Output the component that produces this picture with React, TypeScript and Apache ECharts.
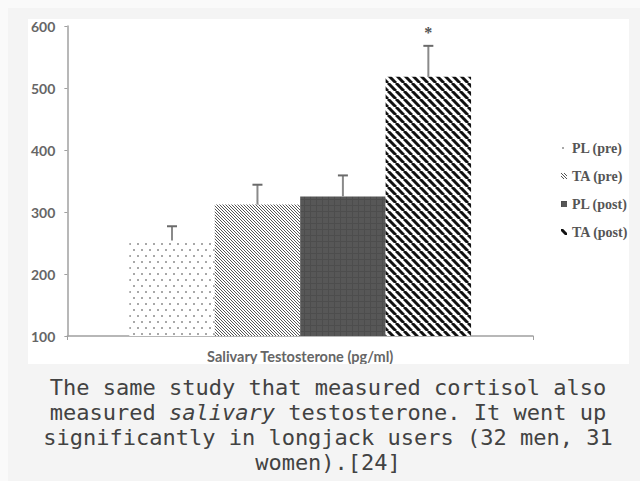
import React, { useEffect, useRef } from "react";
import * as echarts from "echarts";

const CATEGORIES = ["Salivary Testosterone (pg/ml)"];
const SERIES_NAMES = ["PL (pre)", "TA (pre)", "PL (post)", "TA (post)"];
const MEANS = [254, 312, 325, 518];
const UPPER = [277, 344, 359, 568];
const SIG = ["", "", "", "*"];
const Y_MIN = 100;
const Y_MAX = 600;
const Y_INTERVAL = 100;

const CATEGORY_GAP = 0.266;

function makeTile(w: number, h: number, draw: (ctx: CanvasRenderingContext2D) => void) {
  const c = document.createElement("canvas");
  c.width = w;
  c.height = h;
  const ctx = c.getContext("2d") as CanvasRenderingContext2D;
  draw(ctx);
  return c;
}

function makePatterns() {
  const dots = makeTile(8, 12, (ctx) => {
    ctx.fillStyle = "#ffffff";
    ctx.fillRect(0, 0, 8, 12);
    ctx.fillStyle = "#a8a8a8";
    ctx.fillRect(1, 2, 2, 2);
    ctx.fillRect(5, 8, 2, 2);
  });
  const fine = makeTile(3, 3, (ctx) => {
    ctx.fillStyle = "#ffffff";
    ctx.fillRect(0, 0, 3, 3);
    ctx.strokeStyle = "#555555";
    ctx.lineWidth = 1;
    for (const a of [-3, 0, 3]) {
      ctx.beginPath();
      ctx.moveTo(a, 0);
      ctx.lineTo(a + 3, 3);
      ctx.stroke();
    }
  });
  const dark = makeTile(6, 6, (ctx) => {
    ctx.fillStyle = "#575757";
    ctx.fillRect(0, 0, 6, 6);
    ctx.fillStyle = "#4d4d4d";
    ctx.fillRect(0, 0, 1, 6);
    ctx.fillRect(0, 0, 6, 1);
  });
  const thick = makeTile(8, 8, (ctx) => {
    ctx.fillStyle = "#ffffff";
    ctx.fillRect(0, 0, 8, 8);
    ctx.strokeStyle = "#111111";
    ctx.lineWidth = 3;
    for (const a of [-8, 0, 8]) {
      ctx.beginPath();
      ctx.moveTo(a, 0);
      ctx.lineTo(a + 8, 8);
      ctx.stroke();
    }
  });
  return [dots, fine, dark, thick].map((c) => ({
    image: c,
    repeat: "repeat",
    imageWidth: c.width,
    imageHeight: c.height,
  }));
}

function Chart() {
  const ref = useRef<HTMLDivElement>(null);
  useEffect(() => {
    if (!ref.current) return;
    const chart = echarts.init(ref.current, null, { renderer: "svg" });
    const patterns = makePatterns();
    const n = SERIES_NAMES.length;

    const barSeries = SERIES_NAMES.map((name, i) => ({
      type: "bar",
      name,
      data: [MEANS[i]],
      barGap: "0%",
      barCategoryGap: CATEGORY_GAP * 100 + "%",
      itemStyle: { color: patterns[i] as any },
      z: 2,
    }));

    const errorSeries = {
      type: "custom",
      name: "error",
      z: 3,
      data: MEANS.map((m, i) => [0, m, UPPER[i], i]),
      encode: { x: 0, y: [1, 2] },
      renderItem: (params: any, api: any) => {
        const cat = api.value(0);
        const mean = api.value(1);
        const upper = api.value(2);
        const idx = api.value(3);
        const base = api.coord([cat, mean]);
        const band = api.size([1, 0])[0];
        const groupW = band * (1 - CATEGORY_GAP);
        const barW = groupW / n;
        const x = base[0] - groupW / 2 + barW * (idx + 0.5);
        const yTop = api.coord([cat, upper])[1];
        const children: any[] = [
          {
            type: "line",
            shape: { x1: x, y1: base[1], x2: x, y2: yTop },
            style: { stroke: "#8a8a8a", lineWidth: 2 },
          },
          {
            type: "line",
            shape: { x1: x - 5, y1: yTop, x2: x + 5, y2: yTop },
            style: { stroke: "#6a6a6a", lineWidth: 2 },
          },
        ];
        const sig = SIG[params.dataIndex];
        if (sig) {
          children.push({
            type: "text",
            x,
            y: yTop - 13,
            style: {
              text: sig,
              fill: "#555555",
              font: "bold 16px 'Liberation Serif'",
              align: "center",
              verticalAlign: "middle",
            },
          });
        }
        return { type: "group", children };
      },
    };

    chart.setOption({
      animation: false,
      backgroundColor: "#ffffff",
      grid: { left: 36, top: 5, width: 469, height: 312, containLabel: false },
      legend: {
        data: SERIES_NAMES,
        orient: "vertical",
        left: 533,
        top: 122,
        padding: 0,
        itemWidth: 6,
        itemHeight: 6,
        itemGap: 14,
        icon: "rect",
        textStyle: {
          fontFamily: "Liberation Serif",
          fontWeight: "bold",
          fontSize: 14,
          lineHeight: 14,
          color: "#555555",
        },
      },
      xAxis: {
        type: "category",
        data: CATEGORIES,
        axisLine: { lineStyle: { color: "#a0a0a0", width: 1.5 } },
        axisTick: { show: true, length: 4, lineStyle: { color: "#a0a0a0" } },
        axisLabel: {
          margin: 13,
          color: "#666666",
          fontFamily: "Lato",
          fontWeight: "bold",
          fontSize: 14.5,
        },
      },
      yAxis: {
        type: "value",
        min: Y_MIN,
        max: Y_MAX,
        interval: Y_INTERVAL,
        splitLine: { show: false },
        axisLine: { show: true, lineStyle: { color: "#a0a0a0", width: 1.5 } },
        axisTick: { show: true, length: 3, lineStyle: { color: "#a0a0a0" } },
        axisLabel: {
          margin: 12,
          color: "#666666",
          fontFamily: "Lato",
          fontWeight: "bold",
          fontSize: 14,
        },
      },
      series: [...barSeries, errorSeries],
    } as any);
    return () => chart.dispose();
  }, []);
  return (
    <div
      ref={ref}
      style={{ position: "absolute", left: 20, top: 11, width: 601, height: 345, background: "#fff" }}
    />
  );
}

export default function App() {
  return (
    <div style={{ position: "fixed", left: 0, top: 0, width: 640, height: 481, background: "#fafafa", overflow: "hidden" }}>
      <div
        style={{
          position: "absolute",
          left: 8,
          top: 8,
          width: 640,
          height: 480,
          background: "#f4f4f4",
        }}
      >
        <Chart />
        <div
          style={{
            position: "absolute",
            left: 0,
            top: 367,
            width: 640,
            textAlign: "center",
            fontFamily: "'DejaVu Sans Mono', monospace",
            fontSize: 22,
            lineHeight: "25px",
            color: "#424242",
          }}
        >
          The same study that measured cortisol also
          <br />
          measured <i>salivary</i> testosterone. It went up
          <br />
          significantly in longjack users (32 men, 31
          <br />
          women).[24]
        </div>
      </div>
    </div>
  );
}
